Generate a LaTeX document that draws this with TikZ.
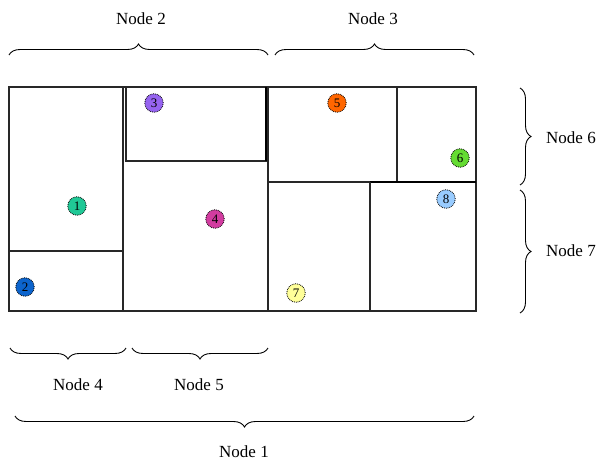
\documentclass[tikz,border=0pt]{standalone}
\usepackage{fontspec}
\setmainfont{Liberation Serif}
\usetikzlibrary{decorations.pathreplacing}
\definecolor{cA}{RGB}{32,200,150}
\definecolor{cB}{RGB}{12,100,205}
\definecolor{cC}{RGB}{150,100,240}
\definecolor{cD}{RGB}{210,60,160}
\definecolor{cE}{RGB}{255,102,0}
\definecolor{cF}{RGB}{100,220,50}
\definecolor{cG}{RGB}{255,255,153}
\definecolor{cH}{RGB}{153,204,255}
\definecolor{edge}{RGB}{40,40,40}
\begin{document}
\begin{tikzpicture}[x=1pt,y=-1pt,
  wall/.style={draw=edge,line width=1.3pt},
  thickwall/.style={draw=black,line width=2.6pt},
  dot/.style={circle,draw=black,line width=0.8pt,densely dotted,minimum size=18.5pt,inner sep=0pt,font=\fontsize{13}{13}\selectfont},
  brc/.style={draw=black,line width=0.9pt,decorate,decoration={brace,amplitude=11pt,aspect=0.5}},
  lbl/.style={font=\fontsize{17}{17}\selectfont,inner sep=0pt}]
\useasboundingbox (0,0) rectangle (600,463);
% regions
\draw[wall] (9,87) rectangle (476,311);
\draw[wall] (123,87) -- (123,311);
\draw[wall] (9,251) -- (123,251);
\draw[wall] (126,87) rectangle (266,161);
\draw[thickwall] (266,87) -- (266,161);
\draw[wall] (268,87) -- (268,311);
\draw[wall] (397,87) -- (397,182);
\draw[wall] (268,182) -- (370,182);
\draw[thickwall] (370,182) -- (476,182);
\draw[wall] (370,182) -- (370,311);
% points
\node[dot,fill=cA] (p1) at (77,206) {1};
\node[dot,fill=cB] (p2) at (25,287) {2};
\node[dot,fill=cC] (p3) at (154,103) {3};
\node[dot,fill=cD] (p4) at (215,219) {4};
\node[dot,fill=cE] (p5) at (337,103) {5};
\node[dot,fill=cF] (p6) at (460,158) {6};
\node[dot,fill=cG] (p7) at (296,293) {7};
\node[dot,fill=cH] (p8) at (446,199) {8};
% brace ends
\coordinate (b2a) at (9,55);   \coordinate (b2b) at (268,55);
\coordinate (b3a) at (275,55); \coordinate (b3b) at (474,55);
\coordinate (b4a) at (126,348); \coordinate (b4b) at (10,348);
\coordinate (b5a) at (268,348); \coordinate (b5b) at (132,348);
\coordinate (b1a) at (474,416); \coordinate (b1b) at (15,416);
\coordinate (b6a) at (520,88);  \coordinate (b6b) at (520,185);
\coordinate (b7a) at (520,190); \coordinate (b7b) at (520,313);
\draw[brc] (b2a) -- (b2b);
\draw[brc] (b3a) -- (b3b);
\draw[brc] (b4a) -- (b4b);
\draw[brc] (b5a) -- (b5b);
\draw[brc] (b1a) -- (b1b);
\draw[brc] (b6a) -- (b6b);
\draw[brc] (b7a) -- (b7b);
% labels
\node[lbl] (n2) at (141,19) {Node 2};
\node[lbl] (n3) at (373,19) {Node 3};
\node[lbl,anchor=west] (n6) at (546,138) {Node 6};
\node[lbl,anchor=west] (n7) at (546,251) {Node 7};
\node[lbl] (n4) at (78,385) {Node 4};
\node[lbl] (n5) at (199,385) {Node 5};
\node[lbl] (n1) at (244,452) {Node 1};
\end{tikzpicture}
\end{document}
